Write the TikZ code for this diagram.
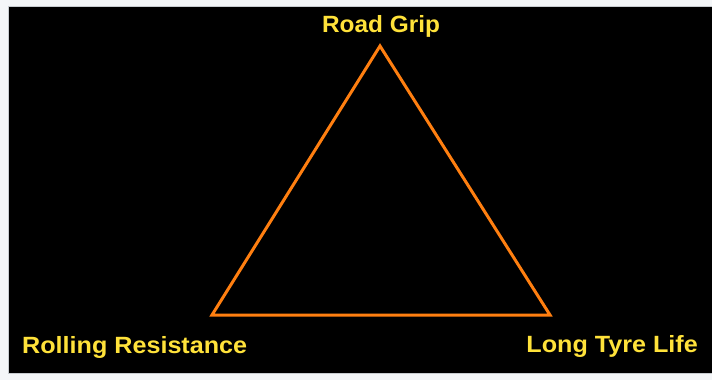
\documentclass[tikz,border=0pt]{standalone}
\usepackage{fontspec}
\setmainfont{Liberation Sans}
\definecolor{pagebg}{HTML}{F4F6F8}
\definecolor{frameln}{HTML}{C8CCD0}
\definecolor{triorange}{HTML}{FF7F10}
\definecolor{labelyellow}{HTML}{FFE23A}
\begin{document}
\begin{tikzpicture}[x=1pt,y=-1pt,
  label text/.style={inner sep=0pt,text=labelyellow,xscale=1.07,font=\fontsize{23.5}{26}\selectfont\bfseries},
  tri/.style={draw=triorange,line width=3pt,line join=miter}]
\useasboundingbox (0,0) rectangle (712,380);
\fill[pagebg] (0,0) rectangle (712,380);
\fill[black,draw=frameln,line width=0.8pt] (8,6) rectangle (713,373);
\coordinate (top) at (380,46);
\coordinate (bl) at (212,315);
\coordinate (br) at (550,315);
\draw[tri] (top) -- (br) -- (bl) -- cycle;
\node[label text,anchor=base,xscale=0.97] (grip) at (381,32) {Road Grip};
\node[label text,anchor=base west] (roll) at (22,353) {Rolling Resistance};
\node[label text,anchor=base east] (life) at (698,352) {Long Tyre Life};
\end{tikzpicture}
\end{document}
